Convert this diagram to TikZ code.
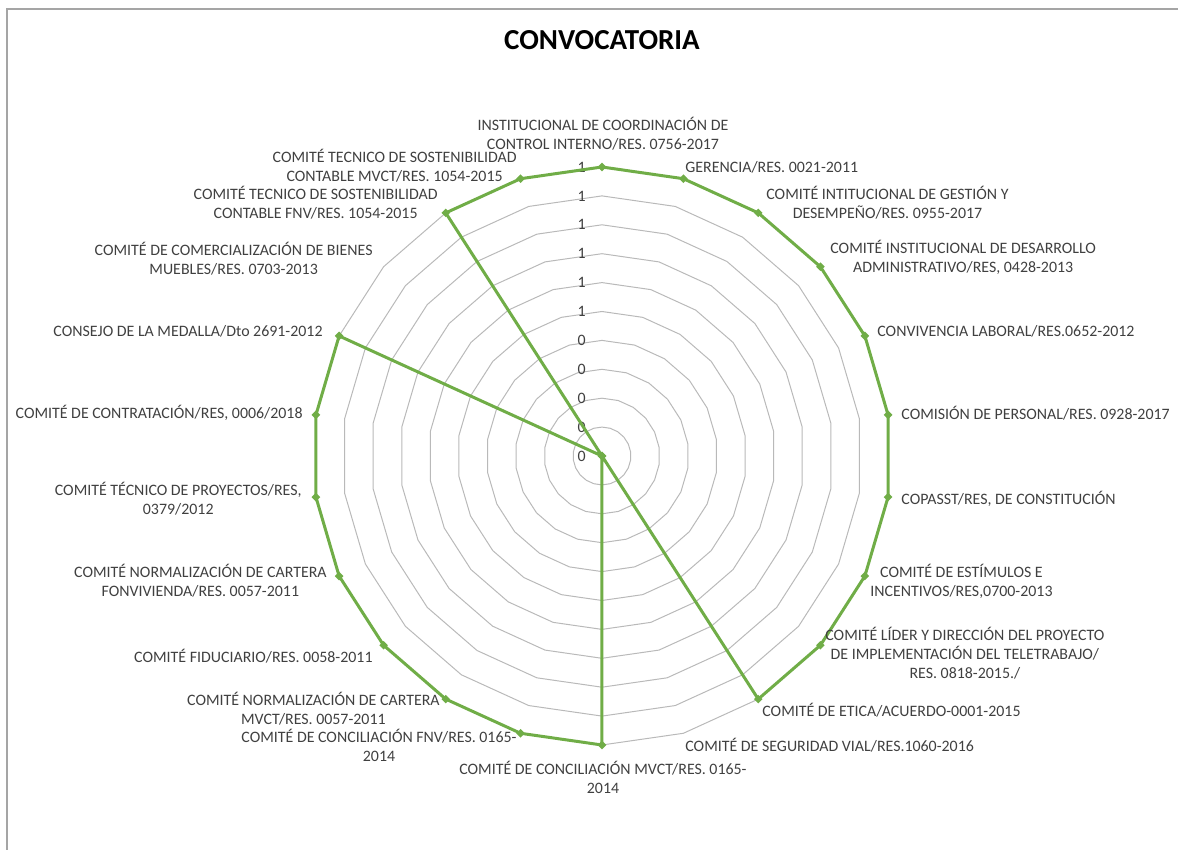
\documentclass[tikz,border=0pt]{standalone}
\usepackage{fontspec}
\setmainfont{Carlito}
\usetikzlibrary{shapes.geometric}
\definecolor{serie}{RGB}{112,173,71}
\definecolor{rejilla}{RGB}{185,185,185}
\definecolor{marco}{RGB}{165,165,165}
\definecolor{texto}{RGB}{64,64,64}
\tikzset{
  etiqueta/.style={font=\fontsize{7.95}{9.5}\selectfont, text=texto, inner sep=0pt, align=center},
  marca/.style={shape=diamond, fill=serie, draw=none, minimum size=4.5pt, inner sep=0pt},
}

\begin{document}
\begin{tikzpicture}[x=0.5pt,y=0.5pt]
\useasboundingbox (-602,-394) rectangle (576,456);
% marco del grafico
\draw [marco, line width=1pt] (-595,-394) -- (-595,447) -- (576,447);
\node [font=\fontsize{14.5}{17}\selectfont\bfseries] (titulo) at (0,416) {CONVOCATORIA};
% anillos de la rejilla
\foreach \k in {1,...,10}{
  \pgfmathsetmacro{\r}{\k*28.9}
  \draw [rejilla, line width=0.5pt] (90:\r) \foreach \i in {1,...,21}{ -- (90-\i*360/22:\r)} -- cycle;
}
% escala
\foreach \k/\t in {0/0,1/0,2/0,3/0,4/0,5/1,6/1,7/1,8/1,9/1,10/1}
  \node [etiqueta, anchor=east] (esc\k) at (-16,\k*28.9) {\t};
% serie
\foreach \v [count=\i from 0] in {1,1,1,1,1,1,1,1,1,1,0,1,1,1,1,1,1,1,1,0,1,1}{
  \pgfmathsetmacro{\r}{\v*289}
  \coordinate (p\i) at (90-\i*360/22:\r);
}
\draw [serie, line width=1.5pt, line join=round] (p0) \foreach \i in {1,...,21}{ -- (p\i)} -- cycle;
\foreach \i in {0,...,21}
  \node [marca] (m\i) at (p\i) {};
% etiquetas de categoria
\node [etiqueta] (c0) at (1,322) {INSTITUCIONAL DE COORDINACIÓN DE\\CONTROL INTERNO/RES. 0756-2017};
\node [etiqueta, anchor=west] (c1) at (83,289) {GERENCIA/RES. 0021-2011};
\node [etiqueta, anchor=west] (c2) at (164,253.5) {COMITÉ INTITUCIONAL DE GESTIÓN Y\\DESEMPEÑO/RES. 0955-2017};
\node [etiqueta, anchor=west] (c3) at (228,198.5) {COMITÉ INSTITUCIONAL DE DESARROLLO\\ADMINISTRATIVO/RES, 0428-2013};
\node [etiqueta, anchor=west] (c4) at (275,125) {CONVIVENCIA LABORAL/RES.0652-2012};
\node [etiqueta, anchor=west] (c5) at (299,43) {COMISIÓN DE PERSONAL/RES. 0928-2017};
\node [etiqueta, anchor=west] (c6) at (299,-43) {COPASST/RES, DE CONSTITUCIÓN};
\node [etiqueta, anchor=west] (c7) at (268,-125.5) {COMITÉ DE ESTÍMULOS E\\INCENTIVOS/RES,0700-2013};
\node [etiqueta, anchor=west] (c8) at (223,-197.5) {COMITÉ LÍDER Y DIRECCIÓN DEL PROYECTO\\DE IMPLEMENTACIÓN DEL TELETRABAJO/\\RES. 0818-2015./};
\node [etiqueta, anchor=west] (c9) at (160,-254) {COMITÉ DE ETICA/ACUERDO-0001-2015};
\node [etiqueta, anchor=west] (c10) at (83,-289) {COMITÉ DE SEGURIDAD VIAL/RES.1060-2016};
\node [etiqueta] (c11) at (1,-321.5) {COMITÉ DE CONCILIACIÓN MVCT/RES. 0165-\\2014};
\node [etiqueta, anchor=east] (c12) at (-85,-289.5) {COMITÉ DE CONCILIACIÓN FNV/RES. 0165-\\2014};
\node [etiqueta, anchor=east] (c13) at (-162,-252.5) {COMITÉ NORMALIZACIÓN DE CARTERA\\MVCT/RES. 0057-2011};
\node [etiqueta, anchor=east] (c14) at (-229,-200) {COMITÉ FIDUCIARIO/RES. 0058-2011};
\node [etiqueta, anchor=east] (c15) at (-275,-124.5) {COMITÉ NORMALIZACIÓN DE CARTERA\\FONVIVIENDA/RES. 0057-2011};
\node [etiqueta, anchor=east] (c16) at (-300,-42.5) {COMITÉ TÉCNICO DE PROYECTOS/RES,\\0379/2012};
\node [etiqueta, anchor=east] (c17) at (-299,43) {COMITÉ DE CONTRATACIÓN/RES, 0006/2018};
\node [etiqueta, anchor=east] (c18) at (-279,125) {CONSEJO DE LA MEDALLA/Dto 2691-2012};
\node [etiqueta, anchor=east] (c19) at (-229,197) {COMITÉ DE COMERCIALIZACIÓN DE BIENES\\MUEBLES/RES. 0703-2013};
\node [etiqueta, anchor=east] (c20) at (-164,253) {COMITÉ TECNICO DE SOSTENIBILIDAD\\CONTABLE FNV/RES. 1054-2015};
\node [etiqueta, anchor=east] (c21) at (-85,290) {COMITÉ TECNICO DE SOSTENIBILIDAD\\CONTABLE MVCT/RES. 1054-2015};
\end{tikzpicture}
\end{document}
